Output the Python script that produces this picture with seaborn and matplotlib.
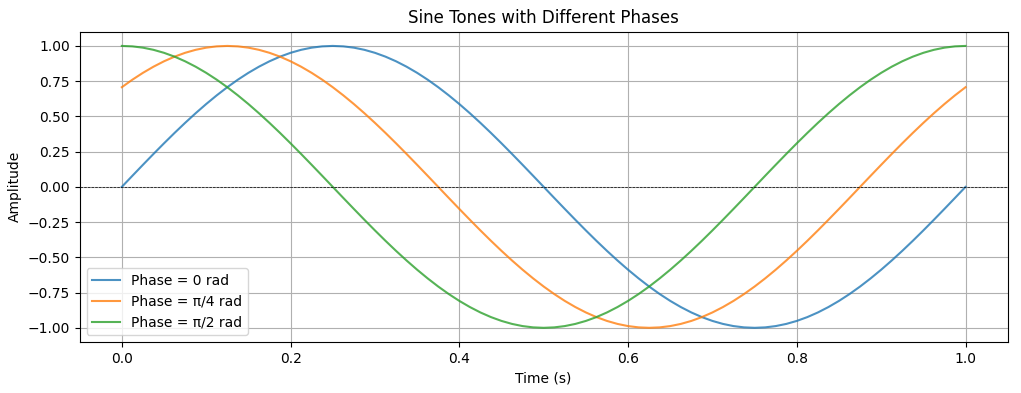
import matplotlib
matplotlib.use("Agg")
import matplotlib.pyplot as plt
import seaborn as sns
import pandas as pd

# time samples (s), read every 0.0125 s
time_s = [0.0, 0.0125, 0.025, 0.0375, 0.05, 0.0625, 0.075, 0.0875,
          0.1, 0.1125, 0.125, 0.1375, 0.15, 0.1625, 0.175, 0.1875,
          0.2, 0.2125, 0.225, 0.2375, 0.25, 0.2625, 0.275, 0.2875,
          0.3, 0.3125, 0.325, 0.3375, 0.35, 0.3625, 0.375, 0.3875,
          0.4, 0.4125, 0.425, 0.4375, 0.45, 0.4625, 0.475, 0.4875,
          0.5, 0.5125, 0.525, 0.5375, 0.55, 0.5625, 0.575, 0.5875,
          0.6, 0.6125, 0.625, 0.6375, 0.65, 0.6625, 0.675, 0.6875,
          0.7, 0.7125, 0.725, 0.7375, 0.75, 0.7625, 0.775, 0.7875,
          0.8, 0.8125, 0.825, 0.8375, 0.85, 0.8625, 0.875, 0.8875,
          0.9, 0.9125, 0.925, 0.9375, 0.95, 0.9625, 0.975, 0.9875,
          1.0]

phase_0 = [0.0, 0.0785, 0.1564, 0.2334, 0.309, 0.3827, 0.454, 0.5225, 0.5878, 0.6494,
           0.7071, 0.7604, 0.809, 0.8526, 0.891, 0.9239, 0.9511, 0.9724, 0.9877, 0.9969, 1.0,
           0.9969, 0.9877, 0.9724, 0.9511, 0.9239, 0.891, 0.8526, 0.809, 0.7604, 0.7071,
           0.6494, 0.5878, 0.5225, 0.454, 0.3827, 0.309, 0.2334, 0.1564, 0.0785, 0.0,
           -0.0785, -0.1564, -0.2334, -0.309, -0.3827, -0.454, -0.5225, -0.5878, -0.6494, -0.7071,
           -0.7604, -0.809, -0.8526, -0.891, -0.9239, -0.9511, -0.9724, -0.9877, -0.9969, -1.0,
           -0.9969, -0.9877, -0.9724, -0.9511, -0.9239, -0.891, -0.8526, -0.809, -0.7604, -0.7071,
           -0.6494, -0.5878, -0.5225, -0.454, -0.3827, -0.309, -0.2334, -0.1564, -0.0785, 0.0]

phase_pi4 = [0.7071, 0.7604, 0.809, 0.8526, 0.891, 0.9239, 0.9511, 0.9724, 0.9877, 0.9969, 1.0,
             0.9969, 0.9877, 0.9724, 0.9511, 0.9239, 0.891, 0.8526, 0.809, 0.7604, 0.7071,
             0.6494, 0.5878, 0.5225, 0.454, 0.3827, 0.309, 0.2334, 0.1564, 0.0785, 0.0,
             -0.0785, -0.1564, -0.2334, -0.309, -0.3827, -0.454, -0.5225, -0.5878, -0.6494, -0.7071,
             -0.7604, -0.809, -0.8526, -0.891, -0.9239, -0.9511, -0.9724, -0.9877, -0.9969, -1.0,
             -0.9969, -0.9877, -0.9724, -0.9511, -0.9239, -0.891, -0.8526, -0.809, -0.7604, -0.7071,
             -0.6494, -0.5878, -0.5225, -0.454, -0.3827, -0.309, -0.2334, -0.1564, -0.0785, 0.0,
             0.0785, 0.1564, 0.2334, 0.309, 0.3827, 0.454, 0.5225, 0.5878, 0.6494, 0.7071]

phase_pi2 = [1.0, 0.9969, 0.9877, 0.9724, 0.9511, 0.9239, 0.891, 0.8526, 0.809, 0.7604, 0.7071,
             0.6494, 0.5878, 0.5225, 0.454, 0.3827, 0.309, 0.2334, 0.1564, 0.0785, 0.0,
             -0.0785, -0.1564, -0.2334, -0.309, -0.3827, -0.454, -0.5225, -0.5878, -0.6494, -0.7071,
             -0.7604, -0.809, -0.8526, -0.891, -0.9239, -0.9511, -0.9724, -0.9877, -0.9969, -1.0,
             -0.9969, -0.9877, -0.9724, -0.9511, -0.9239, -0.891, -0.8526, -0.809, -0.7604, -0.7071,
             -0.6494, -0.5878, -0.5225, -0.454, -0.3827, -0.309, -0.2334, -0.1564, -0.0785, 0.0,
             0.0785, 0.1564, 0.2334, 0.309, 0.3827, 0.454, 0.5225, 0.5878, 0.6494, 0.7071,
             0.7604, 0.809, 0.8526, 0.891, 0.9239, 0.9511, 0.9724, 0.9877, 0.9969, 1.0]

labels = ["Phase = 0 rad", "Phase = π/4 rad", "Phase = π/2 rad"]

frames = []
for label, vals in zip(labels, [phase_0, phase_pi4, phase_pi2]):
    frames.append(pd.DataFrame({"Time (s)": time_s, "Amplitude": vals, "Phase": label}))
df = pd.concat(frames, ignore_index=True)

fig, ax = plt.subplots(figsize=(10.21, 3.93), dpi=100)
fig.subplots_adjust(left=0.078, right=0.987, top=0.919, bottom=0.130)

sns.lineplot(data=df, x="Time (s)", y="Amplitude", hue="Phase", hue_order=labels,
             palette=sns.color_palette("tab10", 3), alpha=0.8, linewidth=1.5, ax=ax)
ax.axhline(0, color="black", linestyle="--", linewidth=0.5)
ax.grid(True)
ax.set_title("Sine Tones with Different Phases")
ax.set_xlabel("Time (s)")
ax.set_ylabel("Amplitude")
ax.legend(loc="lower left", title=None)

fig.savefig("out.png", dpi=100)
